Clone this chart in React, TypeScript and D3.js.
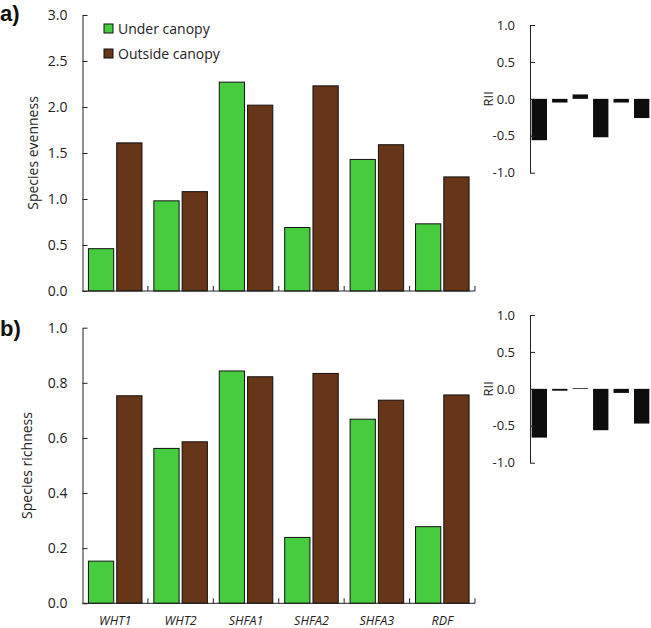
import { useEffect, useRef } from "react";
import * as d3 from "d3";

const sites = ["WHT1", "WHT2", "SHFA1", "SHFA2", "SHFA3", "RDF"];
const series = ["Under canopy", "Outside canopy"];
const colors = ["#46cc3e", "#673517"];

const evennessUnder = [0.46, 0.98, 2.27, 0.69, 1.43, 0.73];
const evennessOutside = [1.61, 1.08, 2.02, 2.23, 1.59, 1.24];
const richnessUnder = [0.153, 0.562, 0.843, 0.239, 0.668, 0.278];
const richnessOutside = [0.753, 0.586, 0.822, 0.834, 0.737, 0.756];

const riiEvenness = [-0.56, -0.05, 0.06, -0.52, -0.05, -0.26];
const riiRichness = [-0.66, -0.025, 0.01, -0.56, -0.055, -0.47];

const evennessTicks = [0, 0.5, 1, 1.5, 2, 2.5, 3];
const richnessTicks = [0, 0.2, 0.4, 0.6, 0.8, 1];
const riiTicks = [-1, -0.5, 0, 0.5, 1];

const FONT = "'Open Sans', 'Noto Sans', sans-serif";

type Sel = d3.Selection<SVGSVGElement, unknown, null, undefined>;

function barPanel(
  svg: Sel,
  under: number[],
  outside: number[],
  domainMax: number,
  ticks: number[],
  top: number,
  bottom: number,
  label: string,
  labelX: number,
  showCats: boolean
) {
  const x = d3.scaleBand<string>().domain(sites).range([82.5, 475]).padding(0);
  const inner = d3
    .scaleBand<number>()
    .domain([0, 1])
    .range([0, x.bandwidth()])
    .paddingInner(0.107)
    .paddingOuter(0.21);
  const y = d3.scaleLinear().domain([0, domainMax]).range([bottom, top]);

  const g = svg.append("g");
  const rows = sites.map((s, i) => ({ site: s, vals: [under[i], outside[i]] }));

  rows.forEach((r) => {
    r.vals.forEach((v, k) => {
      g.append("rect")
        .attr("x", x(r.site)! + inner(k)!)
        .attr("y", y(v))
        .attr("width", inner.bandwidth())
        .attr("height", y(0) - y(v))
        .attr("fill", colors[k])
        .attr("stroke", "#111")
        .attr("stroke-width", 1);
    });
  });

  const yAxis = g
    .append("g")
    .attr("transform", `translate(${x.range()[0]},0)`)
    .call(
      d3
        .axisLeft(y)
        .tickValues(ticks)
        .tickFormat(d3.format(".1f"))
        .tickSizeInner(-5)
        .tickSizeOuter(0)
        .tickPadding(15)
    );
  yAxis.selectAll("text").attr("font-size", "14px").attr("font-family", FONT).attr("fill", "#222");
  yAxis.selectAll("line,path").attr("stroke", "#222");

  // x axis line with ticks at category boundaries
  const bounds = sites.map((s) => x(s)! + x.bandwidth());
  g.append("line")
    .attr("x1", x.range()[0])
    .attr("x2", x.range()[1])
    .attr("y1", y(0))
    .attr("y2", y(0))
    .attr("stroke", "#222");
  bounds.forEach((b) => {
    g.append("line").attr("x1", b).attr("x2", b).attr("y1", y(0)).attr("y2", y(0) - 5).attr("stroke", "#222");
  });

  if (showCats) {
    sites.forEach((s) => {
      g.append("text")
        .attr("x", x(s)! + x.bandwidth() / 2)
        .attr("y", bottom + 22)
        .attr("text-anchor", "middle")
        .attr("font-family", FONT)
        .attr("font-style", "italic")
        .attr("font-size", "12.5px")
        .attr("fill", "#222")
        .text(s);
    });
  }

  g.append("text")
    .attr("transform", `translate(${labelX},${(top + bottom) / 2}) rotate(-90)`)
    .attr("text-anchor", "middle")
    .attr("dy", "0.35em")
    .attr("font-family", FONT)
    .attr("font-size", "14px")
    .attr("fill", "#222")
    .text(label);
}

function riiPanel(svg: Sel, vals: number[], top: number, bottom: number) {
  const x = d3.scaleBand<string>().domain(sites).range([530, 651]).paddingInner(0.25).paddingOuter(0.08);
  const y = d3.scaleLinear().domain([-1, 1]).range([bottom, top]);
  const g = svg.append("g");

  vals.forEach((v, i) => {
    g.append("rect")
      .attr("x", x(sites[i])!)
      .attr("y", y(Math.max(0, v)))
      .attr("width", x.bandwidth())
      .attr("height", Math.abs(y(v) - y(0)))
      .attr("fill", "#0d0d0d");
  });

  const ax = g
    .append("g")
    .attr("transform", "translate(530,0)")
    .call(
      d3
        .axisLeft(y)
        .tickValues(riiTicks)
        .tickFormat(d3.format(".1f"))
        .tickSizeInner(-5)
        .tickSizeOuter(0)
        .tickPadding(15)
    );
  ax.selectAll("text")
    .attr("font-size", "13px")
    .attr("font-family", FONT)
    .attr("fill", "#222")
    .text((d: any) => d3.format(".1f")(d).replace("−", "-"));
  ax.selectAll("line,path").attr("stroke", "#222");

  g.append("text")
    .attr("transform", `translate(488,${y(0)}) rotate(-90)`)
    .attr("text-anchor", "middle")
    .attr("dy", "0.35em")
    .attr("font-family", FONT)
    .attr("font-size", "13px")
    .attr("fill", "#222")
    .text("RII");
}

export default function App() {
  const ref = useRef<SVGSVGElement>(null);

  useEffect(() => {
    if (!ref.current) return;
    const svg = d3.select(ref.current);
    svg.selectAll("*").remove();

    barPanel(svg, evennessUnder, evennessOutside, 3, evennessTicks, 15, 291, "Species evenness", 33, false);
    barPanel(svg, richnessUnder, richnessOutside, 1, richnessTicks, 327.7, 603.3, "Species richness", 27, true);
    riiPanel(svg, riiEvenness, 25, 172.7);
    riiPanel(svg, riiRichness, 315, 462.7);

    // legend
    series.forEach((s, i) => {
      svg
        .append("rect")
        .attr("x", 104)
        .attr("y", 24 + i * 25)
        .attr("width", 9)
        .attr("height", 9)
        .attr("fill", colors[i])
        .attr("stroke", "#111");
      svg
        .append("text")
        .attr("x", 118)
        .attr("y", 33.5 + i * 25)
        .attr("font-family", FONT)
        .attr("font-size", "14px")
        .attr("fill", "#222")
        .text(s);
    });

    // panel letters; Liberation Sans has a shorter ascent so "a)" stays inside the top edge
    [["a)", 21], ["b)", 336]].forEach(([t, yy]) => {
      svg
        .append("text")
        .attr("x", 0)
        .attr("y", yy as number)
        .attr("font-family", "'Liberation Sans', Arial, sans-serif")
        .attr("font-weight", "bold")
        .attr("font-size", "22px")
        .attr("fill", "#111")
        .text(t as string);
    });
  }, []);

  return (
    <svg
      ref={ref}
      width={651}
      height={628}
      style={{ position: "absolute", left: 0, top: 0, background: "#fff" }}
    />
  );
}
